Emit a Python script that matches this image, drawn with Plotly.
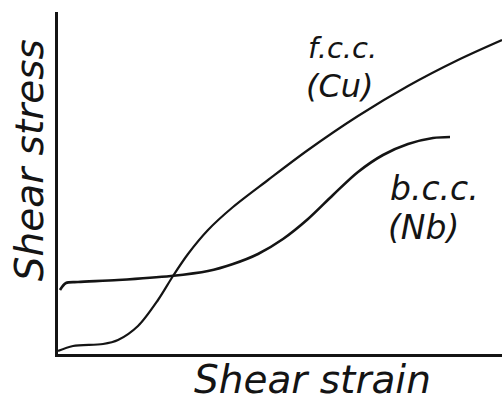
import plotly.graph_objects as go

# Shear strain (arbitrary units) and shear stress (arbitrary units)
fcc_strain = [0, 15, 45, 60, 80, 100, 115, 130, 150, 175, 210, 250, 300, 350, 400, 444]
fcc_stress = [3, 8, 10, 14, 28, 54, 78, 100, 124, 147, 174, 204, 238, 268, 294, 314]

bcc_strain = [2, 8, 20, 60, 113, 150, 175, 200, 225, 250, 275, 300, 325, 350, 375, 392]
bcc_stress = [64, 71, 72, 74, 78, 83, 90, 100, 115, 135, 159, 182, 199, 210, 216, 217]

ink = "#141414"
font = "DejaVu Sans"

fig = go.Figure()
fig.add_trace(go.Scatter(x=fcc_strain, y=fcc_stress, mode="lines",
                         line=dict(color=ink, width=2.2, shape="spline", smoothing=0.9),
                         hoverinfo="skip"))
fig.add_trace(go.Scatter(x=bcc_strain, y=bcc_stress, mode="lines",
                         line=dict(color=ink, width=2.6, shape="spline", smoothing=0.9),
                         hoverinfo="skip"))

def note(txt, x, y, size, angle=0, ref="data"):
    xr, yr = ("x", "y") if ref == "data" else ("paper", "paper")
    fig.add_annotation(x=x, y=y, xref=xr, yref=yr, text=txt, showarrow=False,
                       textangle=angle, xanchor="center", yanchor="middle",
                       font=dict(family=font, size=size, color=ink, style="italic"))

note("f.c.c.", 284, 306, 29)
note("(Cu)", 282, 268, 32)
note("b.c.c.", 376, 166, 33)
note("(Nb)", 365, 127, 33)
note("Shear strain", 0.574, -0.076, 39, ref="paper")
note("Shear stress", -0.065, 0.567, 39, angle=-90, ref="paper")

fig.update_layout(
    width=502, height=401,
    margin=dict(l=58, r=0, t=12, b=47),
    paper_bgcolor="white", plot_bgcolor="white",
    showlegend=False,
    xaxis=dict(range=[0, 444], showgrid=False, zeroline=False, showticklabels=False,
               ticks="", showline=True, linecolor=ink, linewidth=3),
    yaxis=dict(range=[0, 342], showgrid=False, zeroline=False, showticklabels=False,
               ticks="", showline=True, linecolor=ink, linewidth=3),
)

fig.write_html("out.html", config={"displayModeBar": False},
               post_script="document.body.style.margin='0px';")
